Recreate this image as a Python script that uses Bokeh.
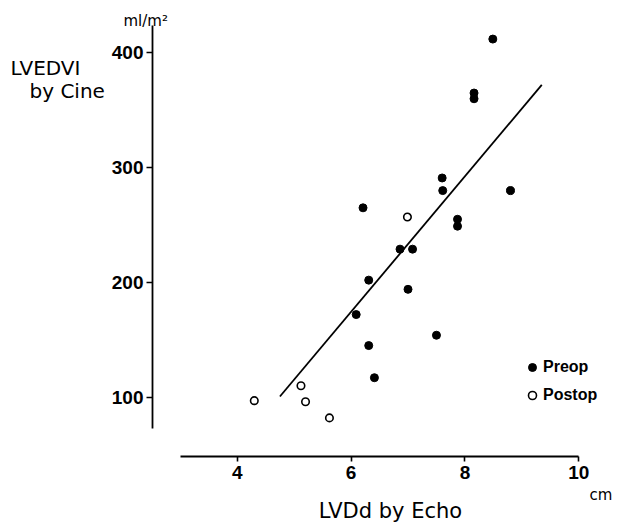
from bokeh.plotting import figure
from bokeh.models import Range1d, FixedTicker, Label, Legend, LegendItem
from bokeh.embed import file_html
from bokeh.resources import INLINE

# ---- data ----
preop_x = [8.49, 8.16, 8.16, 7.60, 7.61, 8.80, 6.21, 7.87, 7.87, 6.86, 7.08,
           6.31, 7.00, 6.09, 7.50, 6.31, 6.41]
preop_y = [412, 365, 360, 291, 280, 280, 265, 255, 249, 229, 229,
           202, 194, 172, 154, 145, 117]
postop_x = [6.99, 5.12, 4.30, 5.20, 5.62]
postop_y = [257, 110, 97, 96, 82]
fit_x = [4.75, 9.35]
fit_y = [100.6, 372.1]
x_ticks = [4, 6, 8, 10]
y_ticks = [100, 200, 300, 400]
x_axis_bounds = (3.0, 10.0)
y_axis_bounds = (72.7, 423.8)
x_axis_at_y = 48.3
y_axis_at_x = 2.512

W, H = 617, 523
p = figure(width=W, height=H, output_backend="svg", toolbar_location=None,
           x_range=Range1d(-0.158, 10.680), y_range=Range1d(-10.0, 445.6),
           min_border=0, min_border_left=0, min_border_right=0,
           min_border_top=0, min_border_bottom=0,
           background_fill_color="white", border_fill_color="white")
p.grid.visible = False
p.outline_line_color = None

for ax in (p.xaxis[0], p.yaxis[0]):
    ax.axis_line_width = 1.8
    ax.axis_line_color = "black"
    ax.major_tick_line_width = 1.6
    ax.major_tick_line_color = "black"
    ax.minor_tick_line_color = None
    ax.major_tick_in = 0
    ax.major_label_text_font = "Liberation Sans"
    ax.major_label_text_font_size = "19px"
    ax.major_label_text_font_style = "bold"
    ax.major_label_text_color = "black"

p.xaxis.ticker = FixedTicker(ticks=x_ticks)
p.yaxis.ticker = FixedTicker(ticks=y_ticks)
p.xaxis.bounds = x_axis_bounds
p.yaxis.bounds = y_axis_bounds
p.xaxis.fixed_location = x_axis_at_y
p.yaxis.fixed_location = y_axis_at_x
p.xaxis.major_tick_out = 5
p.yaxis.major_tick_out = 6
p.xaxis.major_label_standoff = 4
p.yaxis.major_label_standoff = 3

p.line(fit_x, fit_y, line_color="black", line_width=1.8)
r_pre = p.scatter(preop_x, preop_y, marker="circle", size=8,
                  fill_color="black", line_color="black")
r_post = p.scatter(postop_x, postop_y, marker="circle", size=7.5,
                   fill_color="white", line_color="black", line_width=1.6)

legend = Legend(items=[LegendItem(label="Preop", renderers=[r_pre]),
                       LegendItem(label="Postop", renderers=[r_post])],
                location=(522, 118), padding=0, margin=0, spacing=8,
                glyph_width=20, glyph_height=20, label_height=20,
                label_standoff=1, border_line_color=None,
                background_fill_alpha=0,
                label_text_font="Liberation Sans",
                label_text_font_style="bold",
                label_text_color="black",
                label_text_font_size="16px")
p.add_layout(legend)

def lab(text, x, y, size, align="left", font="DejaVu Sans"):
    p.add_layout(Label(x=x, y=y, x_units="screen", y_units="screen",
                       text=text, text_font=font, text_font_size=size,
                       text_align=align, text_baseline="alphabetic",
                       text_color="black"))

lab("LVEDVI", 10, 456, "20px")
lab("by Cine", 29, 433, "20px")
lab("ml/m\u00b2", 123, 503, "15px")
lab("LVDd by Echo", 390, 13, "21px", align="center")
lab("cm", 589, 29, "15px")

open("out.html", "w").write(file_html(p, INLINE))
